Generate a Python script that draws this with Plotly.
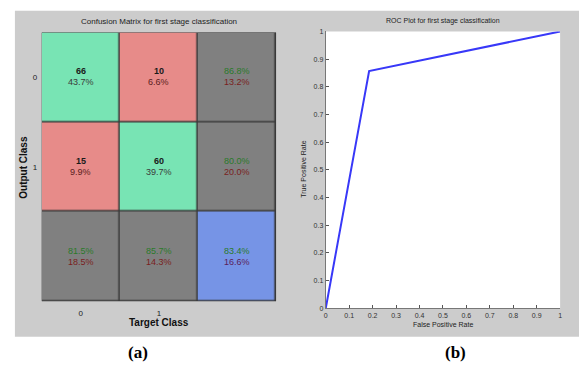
import plotly.graph_objects as go

# ---- data -------------------------------------------------------------
class_labels = ["0", "1"]
counts = [[66, 10], [15, 60]]            # rows = output class, cols = target class
cell_pct = [[43.7, 6.6], [9.9, 39.7]]
row_correct = [86.8, 80.0]
row_wrong = [13.2, 20.0]
col_correct = [81.5, 85.7]
col_wrong = [18.5, 14.3]
overall_correct = 83.4
overall_wrong = 16.6

fpr = [0.0, 0.185, 1.0]
tpr = [0.0, 0.857, 1.0]

# ---- styling ------------------------------------------------------------
W, H = 581, 374
GREEN, RED, GRAY, BLUE = "#78E4B4", "#E78B89", "#808080", "#7694E6"
TXT_GREEN, TXT_RED = "#2A7A2A", "#7A1E1E"
FONT = "Liberation Sans Narrow, Liberation Sans, Arial"


def px_x(x):
    return x / W


def px_y(y):
    return 1 - y / H


# category codes for the matrix cells: 0 green, 1 red, 2 gray, 3 blue
codes = [[0, 1, 2], [1, 0, 2], [2, 2, 3]]
colorscale = [[0.0, GREEN], [0.25, GREEN], [0.25, RED], [0.5, RED],
              [0.5, GRAY], [0.75, GRAY], [0.75, BLUE], [1.0, BLUE]]

fig = go.Figure()

fig.add_trace(go.Heatmap(
    z=codes, x=[0, 1, 2], y=[0, 1, 2], zmin=0, zmax=3,
    colorscale=colorscale, showscale=False, xgap=1.5, ygap=1.5,
    hoverinfo="skip", xaxis="x", yaxis="y"))

fig.add_trace(go.Scatter(
    x=fpr, y=tpr, mode="lines", line=dict(color="#3838F8", width=2),
    hoverinfo="skip", xaxis="x2", yaxis="y2", showlegend=False))

annotations = []


def cell_text(cx, cy, top, bottom, top_color, bottom_color, bold_top=False):
    t = f"<b>{top}</b>" if bold_top else top
    annotations.append(dict(x=cx, y=cy, xref="x", yref="y", text=t,
                            showarrow=False, yshift=6, xanchor="center", yanchor="middle",
                            font=dict(family=FONT, size=9, color=top_color)))
    annotations.append(dict(x=cx, y=cy, xref="x", yref="y", text=bottom,
                            showarrow=False, yshift=-5, xanchor="center", yanchor="middle",
                            font=dict(family=FONT, size=9, color=bottom_color)))


for r in range(2):
    for c in range(2):
        cell_text(c, r, str(counts[r][c]), f"{cell_pct[r][c]:.1f}%",
                  "#1a1a1a", "#3a3a3a" if r == c else "#5a2020", bold_top=True)
    cell_text(2, r, f"{row_correct[r]:.1f}%", f"{row_wrong[r]:.1f}%", TXT_GREEN, TXT_RED)
for c in range(2):
    cell_text(c, 2, f"{col_correct[c]:.1f}%", f"{col_wrong[c]:.1f}%", TXT_GREEN, TXT_RED)
cell_text(2, 2, f"{overall_correct:.1f}%", f"{overall_wrong:.1f}%", TXT_GREEN, "#5A1E5A")


def label(x, y, text, size, color="#222", angle=0, family=FONT):
    annotations.append(dict(x=px_x(x), y=px_y(y), xref="paper", yref="paper",
                            showarrow=False, text=text, textangle=angle,
                            xanchor="center", yanchor="middle",
                            font=dict(family=family, size=size, color=color)))


# titles and axis names
label(158, 18, "Confusion Matrix for first stage classification", 8)
label(158, 325, "<b>Target Class</b>", 10, "#111")
label(22, 166, "<b>Output Class</b>", 10, "#111", angle=-90)
label(444, 17, "ROC Plot for first stage classification", 7)
label(444, 327, "False Positive Rate", 7)
label(304, 168, "True Positive Rate", 7, angle=-90)
label(137, 355, "<b>(a)</b>", 17, "#000", family="Liberation Serif, DejaVu Serif")
label(457, 355, "<b>(b)</b>", 17, "#000", family="Liberation Serif, DejaVu Serif")

shapes = [
    # gray figure panel
    dict(type="rect", xref="paper", yref="paper", layer="below",
         x0=px_x(13), x1=1.0, y0=px_y(339), y1=px_y(7),
         fillcolor="#CCCCCC", line=dict(width=0)),
    # white ROC plotting area
    dict(type="rect", xref="x2 domain", yref="y2 domain", layer="below",
         x0=0, x1=1, y0=0, y1=1, fillcolor="white", line=dict(width=0)),
    # dark grid behind the matrix cells
    dict(type="rect", xref="x", yref="y", layer="below",
         x0=-0.5, x1=2.5, y0=-0.5, y1=2.5,
         fillcolor="#3a3a3a", line=dict(color="#3a3a3a", width=1)),
]

tick_font = dict(family=FONT, size=8, color="#222")
roc_ticks = [round(0.1 * i, 1) for i in range(11)]
roc_ticktext = ["0"] + [str(v) for v in roc_ticks[1:-1]] + ["1"]

fig.update_layout(
    width=W, height=H, margin=dict(l=0, r=0, t=0, b=0),
    paper_bgcolor="white", plot_bgcolor="white", showlegend=False,
    annotations=annotations, shapes=shapes,
    xaxis=dict(domain=[px_x(40), px_x(276)], range=[-0.5, 2.5],
               tickmode="array", tickvals=[0, 1, 2], ticktext=class_labels + [""],
               showgrid=False, zeroline=False, ticks="outside", ticklen=4,
               tickcolor="rgba(0,0,0,0)", tickfont=tick_font, fixedrange=True),
    yaxis=dict(domain=[px_y(303), px_y(29)], range=[2.5, -0.5],
               tickmode="array", tickvals=[0, 1, 2], ticktext=class_labels + [""],
               showgrid=False, zeroline=False, ticks="outside", ticklen=2,
               tickcolor="rgba(0,0,0,0)", tickfont=tick_font, fixedrange=True),
    xaxis2=dict(domain=[px_x(326), px_x(562)], range=[0, 1], anchor="y2",
                tickmode="array", tickvals=roc_ticks, ticktext=roc_ticktext,
                showgrid=False, zeroline=False, showline=True, linecolor="#777",
                linewidth=1, ticks="inside", ticklen=3, tickcolor="#555",
                tickfont=dict(family=FONT, size=7, color="#333")),
    yaxis2=dict(domain=[px_y(310), px_y(28)], range=[0, 1], anchor="x2",
                tickmode="array", tickvals=roc_ticks, ticktext=roc_ticktext,
                showgrid=False, zeroline=False, showline=True, linecolor="#777",
                linewidth=1, ticks="inside", ticklen=3, tickcolor="#555",
                tickfont=dict(family=FONT, size=7, color="#333")),
)

fig.write_html("out.html")
